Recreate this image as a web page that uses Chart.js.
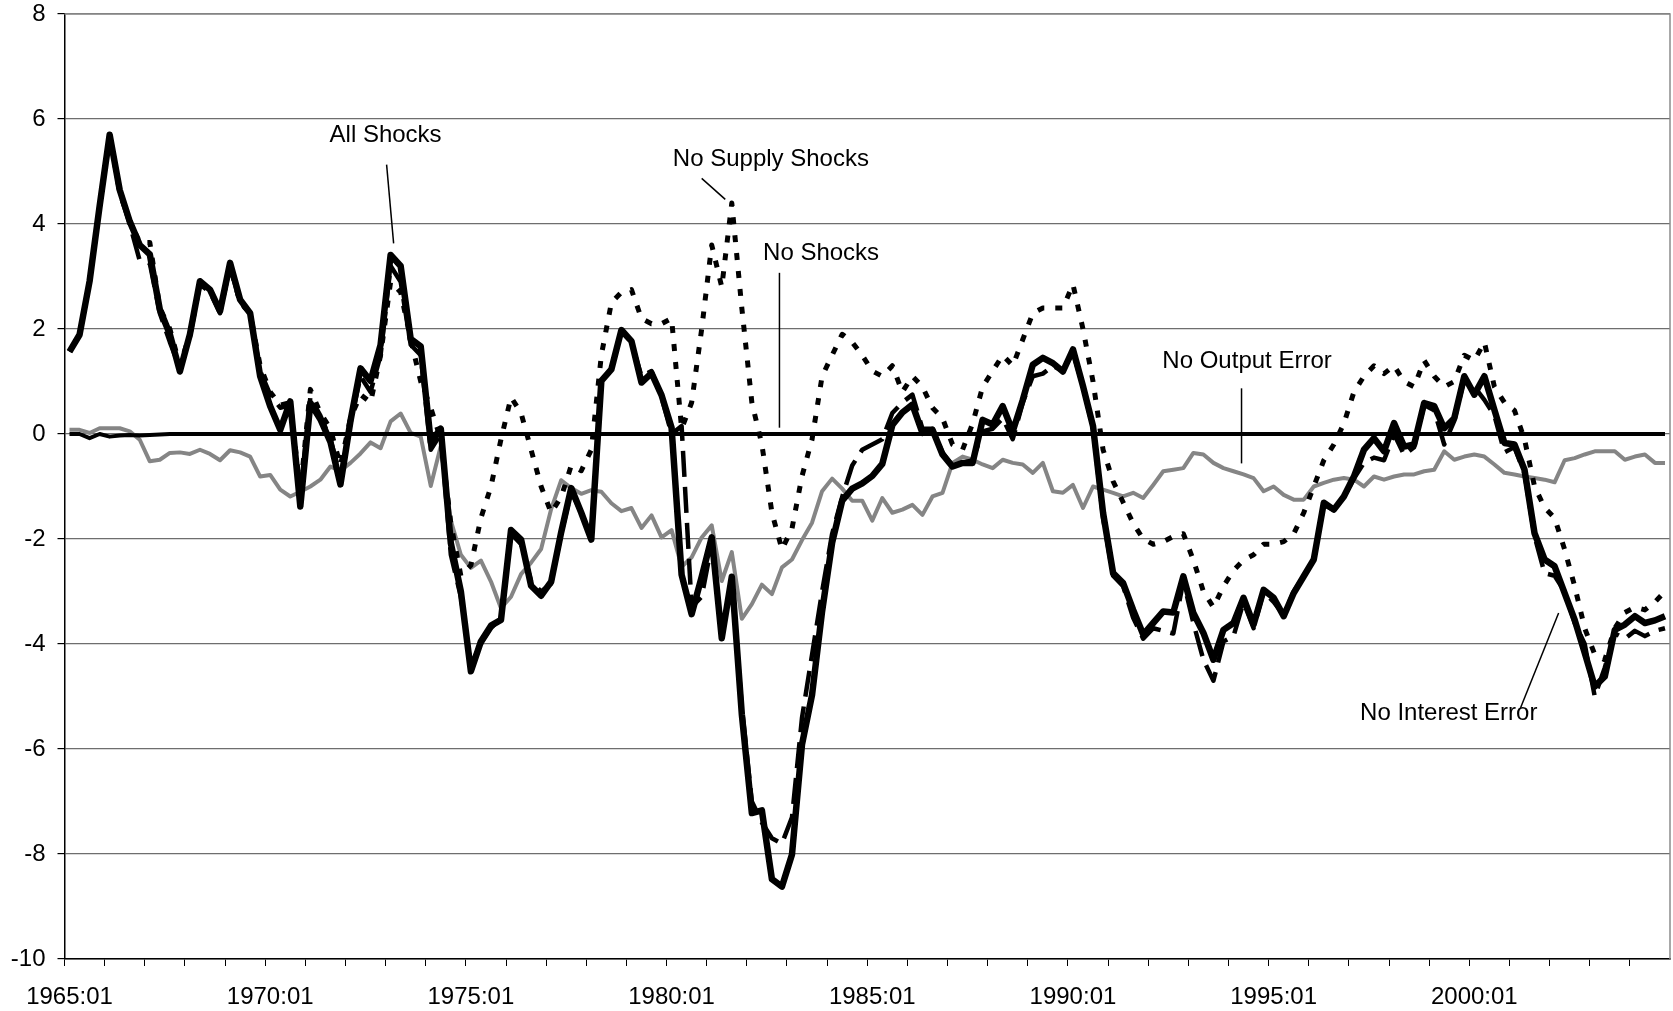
<!DOCTYPE html>
<html>
<head>
<meta charset="utf-8">
<title>Output gap simulations</title>
<script src="https://cdn.jsdelivr.net/npm/chart.js@4.4.1/dist/chart.umd.min.js"></script>
<style>
  html, body { margin: 0; padding: 0; background: #fff; }
  #wrap { width: 1673px; height: 1011px; position: relative; }
</style>
</head>
<body>
<div id="wrap"><canvas id="lineChart"></canvas></div>
<script>
// ---------------- Data ----------------
const firstYear = 1965;
const lastYear = 2004;
const quarterNames = ["01", "02", "03", "04"];

const yTicks = [8, 6, 4, 2, 0, -2, -4, -6, -8, -10];

const allShocks = [
  1.57, 1.89, 2.91, 4.34, 5.70, 4.65, 4.05, 3.60, 3.42, 2.37,
  1.90, 1.19, 1.90, 2.91, 2.75, 2.34, 3.26, 2.56, 2.30, 1.10,
  0.53, 0.08, 0.62, -1.38, 0.59, 0.28, -0.15, -0.96, 0.25, 1.25,
  1.01, 1.70, 3.41, 3.20, 1.81, 1.67, -0.15, 0.10, -2.08, -3.00,
  -4.52, -3.95, -3.65, -3.54, -1.83, -2.01, -2.89, -3.08, -2.81, -1.87,
  -1.03, -1.50, -2.01, 1.01, 1.23, 1.98, 1.77, 0.98, 1.16, 0.74,
  0.12, -2.68, -3.43, -2.72, -1.97, -3.89, -2.72, -5.34, -7.22, -7.17,
  -8.48, -8.62, -8.01, -5.91, -4.97, -3.38, -2.07, -1.27, -1.04, -0.94,
  -0.80, -0.57, 0.17, 0.41, 0.56, 0.02, 0.08, -0.39, -0.62, -0.55,
  -0.55, 0.27, 0.18, 0.53, 0.05, 0.65, 1.32, 1.45, 1.35, 1.19,
  1.61, 0.91, 0.15, -1.50, -2.65, -2.84, -3.35, -3.82, -3.60, -3.38,
  -3.40, -2.71, -3.41, -3.79, -4.30, -3.73, -3.60, -3.12, -3.63, -2.97,
  -3.12, -3.47, -3.03, -2.71, -2.39, -1.31, -1.44, -1.19, -0.81, -0.30,
  -0.08, -0.33, 0.21, -0.24, -0.20, 0.59, 0.53, 0.11, 0.30, 1.10,
  0.75, 1.10, 0.46, -0.17, -0.20, -0.68, -1.89, -2.39, -2.52, -3.03,
  -3.54, -4.17, -4.81, -4.62, -3.73, -3.63, -3.47, -3.60, -3.55, -3.47
];

const noInterestError = [
  1.57, 1.89, 2.91, 4.34, 5.70, 4.60, 4.00, 3.30, 3.25, 2.30,
  1.75, 1.25, 1.85, 2.85, 2.70, 2.30, 3.20, 2.50, 2.30, 1.20,
  0.75, 0.50, 0.55, -1.20, 0.70, 0.35, -0.10, -0.80, 0.20, 1.10,
  0.80, 1.50, 3.20, 2.90, 1.70, 1.50, -0.30, 0.00, -2.30, -3.10,
  -4.40, -4.00, -3.70, -3.50, -1.90, -2.10, -2.80, -3.00, -2.85, -1.90,
  -1.10, -1.50, -2.00, 1.00, 1.25, 1.95, 1.75, 1.10, 1.20, 0.70,
  0.00, 0.15, -3.30, -3.10, -2.10, -3.80, -2.80, -5.20, -7.00, -7.40,
  -7.70, -7.80, -7.30, -5.40, -4.20, -3.00, -1.90, -1.20, -0.60, -0.30,
  -0.20, -0.10, 0.40, 0.60, 0.75, 0.10, 0.10, -0.35, -0.60, -0.55,
  -0.50, 0.05, 0.10, 0.30, -0.10, 0.60, 1.10, 1.15, 1.30, 1.20,
  1.55, 0.90, 0.10, -1.60, -2.70, -2.90, -3.50, -3.90, -3.70, -3.75,
  -3.80, -2.80, -3.60, -4.30, -4.70, -3.95, -3.85, -3.20, -3.70, -3.00,
  -3.20, -3.45, -3.00, -2.70, -2.40, -1.35, -1.45, -1.20, -0.85, -0.55,
  -0.45, -0.50, 0.00, -0.40, -0.25, 0.55, 0.45, -0.20, 0.25, 1.05,
  0.90, 0.65, 0.35, -0.35, -0.25, -0.75, -1.95, -2.65, -2.70, -3.00,
  -3.60, -4.00, -5.00, -4.45, -3.80, -3.90, -3.75, -3.85, -3.75, -3.70
];

const noSupplyShocks = [
  1.57, 1.89, 2.91, 4.34, 5.70, 4.60, 4.05, 3.65, 3.65, 2.40,
  2.00, 1.30, 1.90, 2.90, 2.75, 2.35, 3.20, 2.50, 2.30, 1.30,
  0.80, 0.55, 0.60, -1.10, 0.85, 0.40, 0.10, -0.60, 0.30, 0.75,
  0.60, 1.50, 2.90, 2.70, 1.80, 1.00, 0.50, -0.10, -1.70, -2.70,
  -2.50, -1.60, -1.00, -0.10, 0.70, 0.40, -0.30, -1.00, -1.50, -1.20,
  -0.60, -0.70, -0.30, 1.50, 2.50, 2.70, 2.75, 2.20, 2.10, 2.10,
  2.20, 0.10, 0.60, 2.00, 3.60, 2.80, 4.40, 2.40, 0.60, -0.20,
  -1.50, -2.20, -1.80, -0.80, -0.10, 1.10, 1.50, 1.90, 1.75, 1.50,
  1.20, 1.10, 1.30, 0.80, 1.10, 0.90, 0.50, 0.30, -0.20, -0.30,
  0.20, 0.90, 1.20, 1.50, 1.30, 1.80, 2.30, 2.40, 2.40, 2.40,
  2.85, 2.00, 1.00, -0.30, -0.90, -1.30, -1.70, -2.00, -2.10, -2.05,
  -1.95, -1.90, -2.40, -3.00, -3.30, -2.90, -2.60, -2.40, -2.30, -2.10,
  -2.10, -2.05, -1.90, -1.50, -1.00, -0.50, -0.20, 0.20, 0.80, 1.10,
  1.30, 1.15, 1.30, 1.00, 0.90, 1.40, 1.10, 0.90, 1.00, 1.50,
  1.40, 1.75, 0.90, 0.60, 0.45, -0.10, -1.00, -1.40, -1.60, -2.20,
  -2.90, -3.70, -4.20, -4.30, -3.70, -3.40, -3.30, -3.35, -3.20, -3.00
];

const noShocks = [
  0.00, 0.00, -0.08, 0.00, -0.05, -0.03, -0.02, -0.03, -0.02, -0.01,
  0, 0, 0, 0, 0, 0, 0, 0, 0, 0,
  0, 0, 0, 0, 0, 0, 0, 0, 0, 0,
  0, 0, 0, 0, 0, 0, 0, 0, 0, 0,
  0, 0, 0, 0, 0, 0, 0, 0, 0, 0,
  0, 0, 0, 0, 0, 0, 0, 0, 0, 0,
  0, 0, 0, 0, 0, 0, 0, 0, 0, 0,
  0, 0, 0, 0, 0, 0, 0, 0, 0, 0,
  0, 0, 0, 0, 0, 0, 0, 0, 0, 0,
  0, 0, 0, 0, 0, 0, 0, 0, 0, 0,
  0, 0, 0, 0, 0, 0, 0, 0, 0, 0,
  0, 0, 0, 0, 0, 0, 0, 0, 0, 0,
  0, 0, 0, 0, 0, 0, 0, 0, 0, 0,
  0, 0, 0, 0, 0, 0, 0, 0, 0, 0,
  0, 0, 0, 0, 0, 0, 0, 0, 0, 0,
  0, 0, 0, 0, 0, 0, 0, 0, 0, 0
];

const noOutputError = [
  0.08, 0.08, 0.02, 0.11, 0.11, 0.11, 0.05, -0.11, -0.52, -0.49,
  -0.36, -0.35, -0.38, -0.30, -0.38, -0.50, -0.31, -0.35, -0.43, -0.81,
  -0.78, -1.06, -1.19, -1.10, -1.00, -0.87, -0.62, -0.70, -0.55, -0.37,
  -0.16, -0.27, 0.24, 0.39, 0.02, -0.05, -0.99, -0.23, -1.65, -2.30,
  -2.55, -2.41, -2.81, -3.32, -3.10, -2.67, -2.45, -2.19, -1.43, -0.88,
  -1.03, -1.14, -1.07, -1.10, -1.32, -1.47, -1.41, -1.79, -1.55, -1.97,
  -1.83, -2.53, -2.35, -1.97, -1.74, -2.80, -2.25, -3.52, -3.24, -2.87,
  -3.05, -2.54, -2.39, -2.02, -1.69, -1.09, -0.85, -1.04, -1.27, -1.27,
  -1.65, -1.22, -1.50, -1.44, -1.35, -1.54, -1.19, -1.12, -0.55, -0.43,
  -0.49, -0.58, -0.65, -0.49, -0.55, -0.58, -0.74, -0.55, -1.09, -1.12,
  -0.97, -1.41, -1.00, -1.06, -1.12, -1.19, -1.12, -1.22, -0.97, -0.71,
  -0.68, -0.65, -0.36, -0.39, -0.55, -0.65, -0.71, -0.77, -0.84, -1.09,
  -1.00, -1.16, -1.25, -1.25, -1.00, -0.93, -0.87, -0.84, -0.87, -1.00,
  -0.81, -0.87, -0.81, -0.77, -0.77, -0.71, -0.68, -0.33, -0.49, -0.43,
  -0.39, -0.43, -0.58, -0.74, -0.77, -0.81, -0.84, -0.87, -0.92, -0.50,
  -0.46, -0.39, -0.33, -0.33, -0.33, -0.49, -0.43, -0.39, -0.55, -0.55
];

// text labels on the plot, positions in data units: [quarter index, value]
const notes = [
  { text: "All Shocks", at: [31.5, 5.68], line: [[31.6, 5.13], [32.3, 3.63]] },
  { text: "No Supply Shocks", at: [69.9, 5.24], line: [[63.0, 4.87], [65.35, 4.47]] },
  { text: "No Shocks", at: [74.9, 3.44], line: [[70.75, 3.07], [70.75, 0.12]] },
  { text: "No Output Error", at: [117.35, 1.38], line: [[116.8, 0.87], [116.8, -0.56]] },
  { text: "No Interest Error", at: [137.45, -5.33], line: [[148.4, -3.41], [144.6, -5.22]] }
];

// ---------------- Labels ----------------
const quarterLabels = [];
for (let yr = firstYear; yr <= lastYear; yr++) {
  quarterNames.forEach(q => quarterLabels.push(`${yr}:${q}`));
}

const FONT = "'Liberation Sans', Arial, sans-serif";

// ---------------- Plugins ----------------
const frameAndNotes = {
  id: "frameAndNotes",
  beforeDatasetsDraw(chart) {
    const { ctx, chartArea: a } = chart;
    ctx.save();
    ctx.strokeStyle = "#8c8c8c";
    ctx.lineWidth = 1.5;
    ctx.beginPath();
    ctx.moveTo(a.left, a.top);
    ctx.lineTo(a.right, a.top);
    ctx.lineTo(a.right, a.bottom);
    ctx.stroke();
    ctx.restore();
  },
  afterDatasetsDraw(chart) {
    const { ctx, scales: { x, y } } = chart;
    ctx.save();
    ctx.fillStyle = "#000";
    ctx.font = `24px ${FONT}`;
    ctx.textAlign = "center";
    ctx.textBaseline = "middle";
    ctx.strokeStyle = "#000";
    ctx.lineWidth = 1.5;
    notes.forEach(n => {
      ctx.fillText(n.text, x.getPixelForValue(n.at[0]), y.getPixelForValue(n.at[1]));
      ctx.beginPath();
      ctx.moveTo(x.getPixelForValue(n.line[0][0]), y.getPixelForValue(n.line[0][1]));
      ctx.lineTo(x.getPixelForValue(n.line[1][0]), y.getPixelForValue(n.line[1][1]));
      ctx.stroke();
    });
    ctx.restore();
  }
};

// ---------------- Chart ----------------
document.addEventListener("DOMContentLoaded", () => {
  const ctxLine = document.getElementById("lineChart").getContext("2d");
  new Chart(ctxLine, {
    type: "line",
    data: {
      labels: quarterLabels,
      datasets: [
        { label: "All Shocks", data: allShocks, borderColor: "#000", borderWidth: 6.5 },
        { label: "No Interest Error", data: noInterestError, borderColor: "#000", borderWidth: 4.5, borderDash: [26, 10] },
        { label: "No Supply Shocks", data: noSupplyShocks, borderColor: "#000", borderWidth: 5, borderDash: [7, 11] },
        { label: "No Shocks", data: noShocks, borderColor: "#000", borderWidth: 4 },
        { label: "No Output Error", data: noOutputError, borderColor: "#858585", borderWidth: 4 }
      ]
    },
    options: {
      responsive: true,
      maintainAspectRatio: false,
      animation: false,
      devicePixelRatio: 1,
      elements: { point: { radius: 0 }, line: { tension: 0, fill: false, borderJoinStyle: "round" } },
      layout: { padding: { left: 0, top: 14, right: 3, bottom: 0 } },
      plugins: { legend: { display: false }, tooltip: { enabled: false } },
      scales: {
        x: {
          offset: true,
          afterFit: s => { s.height = 52; s.paddingLeft = 0; s.paddingRight = 0; },
          grid: {
            offset: true,
            drawOnChartArea: false,
            tickLength: 7,
            tickColor: c => (c.index % 4 === 0 ? "#000" : "rgba(0,0,0,0)")
          },
          border: { color: "#000", width: 1.5 },
          ticks: {
            autoSkip: false,
            maxRotation: 0,
            minRotation: 0,
            padding: 17,
            color: "#000",
            font: { family: FONT, size: 24 },
            callback: function (val, i) { return i % 20 === 0 ? quarterLabels[i] : ""; }
          }
        },
        y: {
          min: Math.min(...yTicks),
          max: Math.max(...yTicks),
          afterFit: s => { s.width = 64.5; s.paddingTop = 0; s.paddingBottom = 0; },
          afterBuildTicks: s => { s.ticks = yTicks.map(v => ({ value: v })); },
          grid: { color: "#6e6e6e", lineWidth: 1.2, tickLength: 7, tickColor: "#000" },
          border: { color: "#000", width: 1.5 },
          ticks: {
            padding: 12,
            color: "#000",
            font: { family: FONT, size: 24 }
          }
        }
      }
    },
    plugins: [frameAndNotes]
  });
});
</script>
</body>
</html>
